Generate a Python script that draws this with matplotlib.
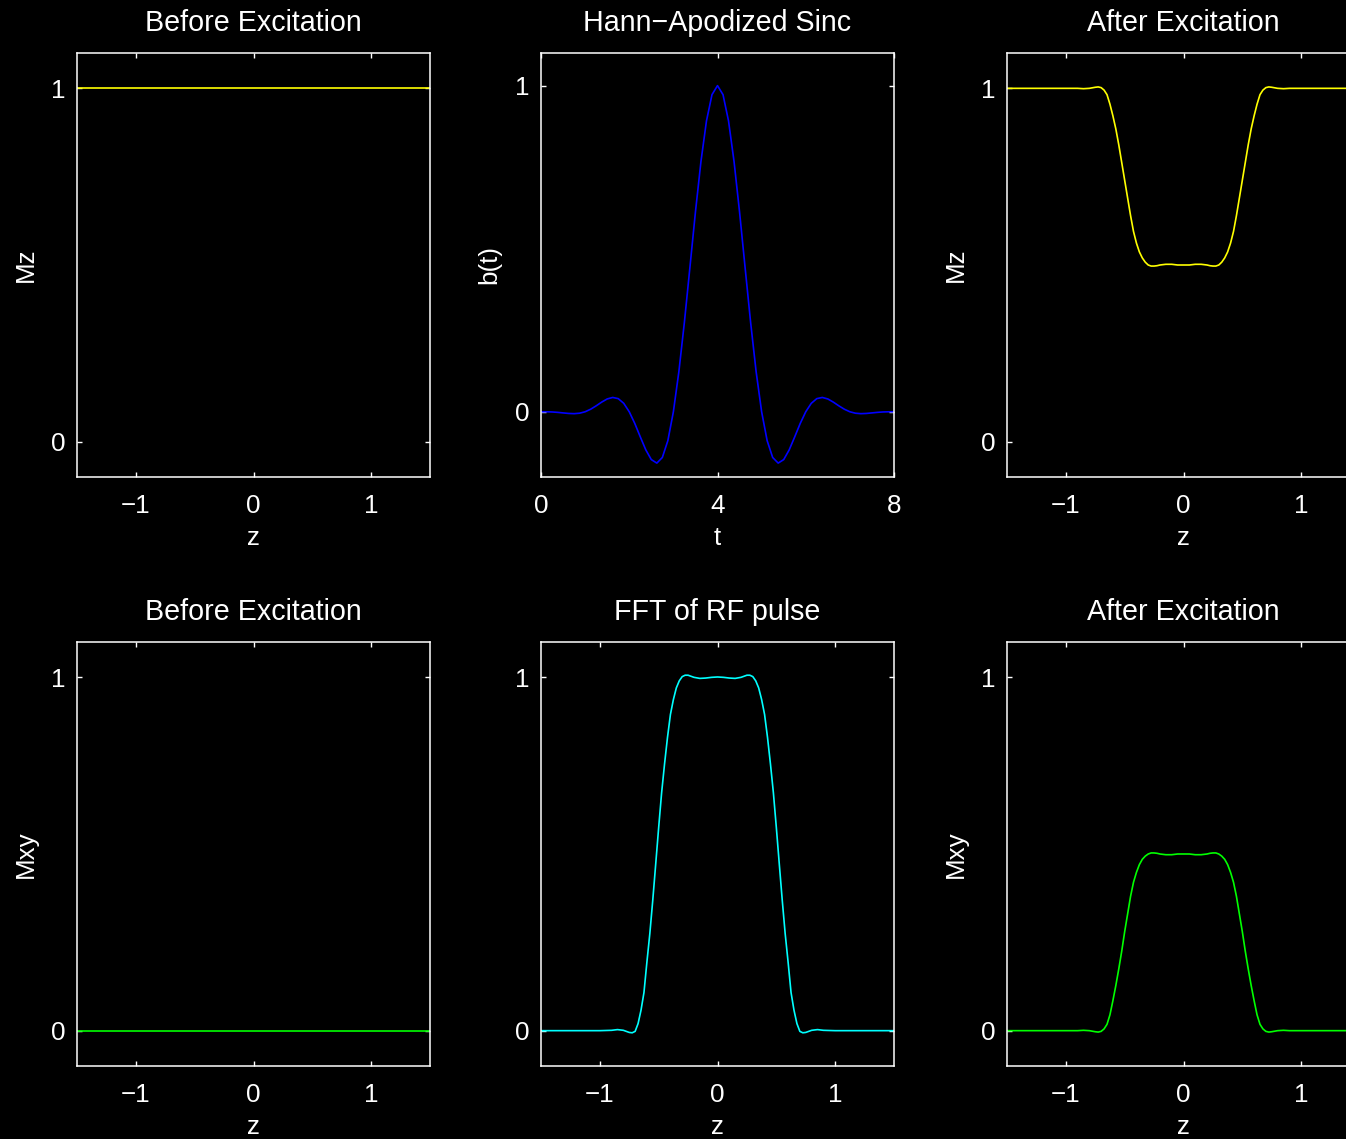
import numpy as np
import matplotlib
matplotlib.use("Agg")
import matplotlib.pyplot as plt

plt.rcParams['font.family'] = ['Liberation Sans', 'DejaVu Sans']
plt.rcParams['axes.unicode_minus'] = True

# slice position z (nonuniform grid, finer in the transition bands)
z = [-1.5, -1.2, -1.0, -0.9, -0.85, -0.8, -0.75, -0.725,
     -0.7, -0.675, -0.65, -0.625, -0.6, -0.575, -0.55, -0.525, -0.5,
     -0.475, -0.45, -0.425, -0.4, -0.375, -0.35, -0.325, -0.3, -0.275,
     -0.25, -0.225, -0.2, -0.15, -0.1, -0.05,
     0.0,
     0.05, 0.1, 0.15, 0.2, 0.225, 0.25, 0.275, 0.3, 0.325, 0.35, 0.375,
     0.4, 0.425, 0.45, 0.475, 0.5, 0.525, 0.55, 0.575, 0.6, 0.625, 0.65,
     0.675, 0.7,
     0.725, 0.75, 0.8, 0.85, 0.9, 1.0, 1.2, 1.5]

# before excitation
z_before = [-1.5, 1.5]
mz_before = [1.0, 1.0]
mxy_before = [0.0, 0.0]

# RF pulse b(t), sampled every 1/8
t = np.linspace(0, 8, 65)
b_t = [0.0, -0.0001, -0.0006, -0.0018, -0.0035, -0.0051, -0.0058, -0.0044,
       0.0, 0.0078, 0.0182, 0.0296, 0.0393, 0.0439, 0.0403, 0.0259,
       0.0, -0.0357, -0.0769, -0.1168, -0.1467, -0.1574, -0.1401, -0.0885,
       0.0, 0.1234, 0.2748, 0.4428, 0.6124, 0.7673, 0.8917, 0.9722,
       1.0,
       0.9722, 0.8917, 0.7673, 0.6124, 0.4428, 0.2748, 0.1234, 0.0,
       -0.0885, -0.1401, -0.1574, -0.1467, -0.1168, -0.0769, -0.0357, 0.0,
       0.0259, 0.0403, 0.0439, 0.0393, 0.0296, 0.0182, 0.0078, 0.0,
       -0.0044, -0.0058, -0.0051, -0.0035, -0.0018, -0.0006, -0.0001, 0.0]

# FFT of RF pulse
fft_rf = [0.0, 0.0, 0.0, 0.001, 0.003, 0.001, -0.005, -0.006,
          -0.002, 0.02, 0.058, 0.108, 0.194, 0.275, 0.37, 0.472, 0.575,
          0.673, 0.755, 0.83, 0.895, 0.937, 0.97, 0.99, 1.002, 1.006,
          1.006, 1.003, 1.0, 0.997, 0.998, 1.0,
          1.001,
          1.0, 0.998, 0.997, 1.0, 1.003, 1.006, 1.006, 1.002, 0.99, 0.97,
          0.937, 0.895, 0.83, 0.755, 0.673, 0.575, 0.472, 0.37, 0.275,
          0.194, 0.108, 0.058, 0.02, -0.002,
          -0.006, -0.005, 0.001, 0.003, 0.001, 0.0, 0.0, 0.0]

# after excitation
mz_after = [1.0, 1.0, 1.0, 1.0, 0.999, 1.0, 1.003, 1.004,
            1.002, 0.995, 0.982, 0.955, 0.922, 0.885, 0.84, 0.79, 0.74,
            0.69, 0.64, 0.595, 0.562, 0.537, 0.52, 0.508, 0.5, 0.497,
            0.497, 0.498, 0.5, 0.502, 0.502, 0.5,
            0.5,
            0.5, 0.502, 0.502, 0.5, 0.498, 0.497, 0.497, 0.5, 0.508, 0.52,
            0.537, 0.562, 0.595, 0.64, 0.69, 0.74, 0.79, 0.84, 0.885,
            0.922, 0.955, 0.982, 0.995, 1.002,
            1.004, 1.003, 1.0, 0.999, 1.0, 1.0, 1.0, 1.0]

mxy_after = [0.0, 0.0, 0.0, 0.0, 0.001, 0.0, -0.003, -0.004,
             -0.002, 0.005, 0.018, 0.045, 0.085, 0.128, 0.175, 0.225, 0.28,
             0.33, 0.38, 0.42, 0.448, 0.47, 0.485, 0.494, 0.5, 0.503,
             0.503, 0.502, 0.5, 0.498, 0.498, 0.5,
             0.5,
             0.5, 0.498, 0.498, 0.5, 0.502, 0.503, 0.503, 0.5, 0.494, 0.485,
             0.47, 0.448, 0.42, 0.38, 0.33, 0.28, 0.225, 0.175, 0.128,
             0.085, 0.045, 0.018, 0.005, -0.002,
             -0.004, -0.003, 0.0, 0.001, 0.0, 0.0, 0.0, 0.0]

W, H = 1346, 1139
fig = plt.figure(figsize=(W / 100, H / 100), dpi=100, facecolor='black')

cols = [77, 541, 1007]
rows = [53, 642]
aw, ah = 353, 424

FS = 18.7
TFS = 20.6


def make_ax(col, row):
    left = cols[col] / W
    bottom = (H - rows[row] - ah) / H
    ax = fig.add_axes([left, bottom, aw / W, ah / H])
    ax.set_facecolor('black')
    for s in ax.spines.values():
        s.set_color('white')
        s.set_linewidth(1.1)
    ax.tick_params(colors='white', direction='in', length=3.5, width=1.0,
                   top=True, right=True, labelsize=FS)
    ax.tick_params(axis='x', pad=12)
    ax.tick_params(axis='y', pad=8)
    return ax


def style(ax, title, xlabel, ylabel):
    ax.set_title(title, color='white', fontsize=TFS, pad=16)
    ax.set_xlabel(xlabel, color='white', fontsize=FS, labelpad=6)
    ax.set_ylabel(ylabel, color='white', fontsize=FS, labelpad=10)


lw = 1.2

# top row
ax = make_ax(0, 0)
ax.plot(z_before, mz_before, color='yellow', lw=lw)
ax.set_xlim(-1.5, 1.5)
ax.set_ylim(-0.1, 1.1)
ax.set_xticks([-1, 0, 1])
ax.set_yticks([0, 1])
style(ax, 'Before Excitation', 'z', 'Mz')

ax = make_ax(1, 0)
ax.plot(t, b_t, color='blue', lw=lw)
ax.set_xlim(0, 8)
ax.set_ylim(-0.2, 1.1)
ax.set_xticks([0, 4, 8])
ax.set_yticks([0, 1])
style(ax, 'Hann\u2212Apodized Sinc', 't', 'b(t)')

ax = make_ax(2, 0)
ax.plot(z, mz_after, color='yellow', lw=lw)
ax.set_xlim(-1.5, 1.5)
ax.set_ylim(-0.1, 1.1)
ax.set_xticks([-1, 0, 1])
ax.set_yticks([0, 1])
style(ax, 'After Excitation', 'z', 'Mz')

# bottom row
ax = make_ax(0, 1)
ax.plot(z_before, mxy_before, color='lime', lw=lw)
ax.set_xlim(-1.5, 1.5)
ax.set_ylim(-0.1, 1.1)
ax.set_xticks([-1, 0, 1])
ax.set_yticks([0, 1])
style(ax, 'Before Excitation', 'z', 'Mxy')

ax = make_ax(1, 1)
ax.plot(z, fft_rf, color='cyan', lw=lw)
ax.set_xlim(-1.5, 1.5)
ax.set_ylim(-0.1, 1.1)
ax.set_xticks([-1, 0, 1])
ax.set_yticks([0, 1])
style(ax, 'FFT of RF pulse', 'z', '')

ax = make_ax(2, 1)
ax.plot(z, mxy_after, color='lime', lw=lw)
ax.set_xlim(-1.5, 1.5)
ax.set_ylim(-0.1, 1.1)
ax.set_xticks([-1, 0, 1])
ax.set_yticks([0, 1])
style(ax, 'After Excitation', 'z', 'Mxy')

fig.savefig('out.png', dpi=100, facecolor='black')
